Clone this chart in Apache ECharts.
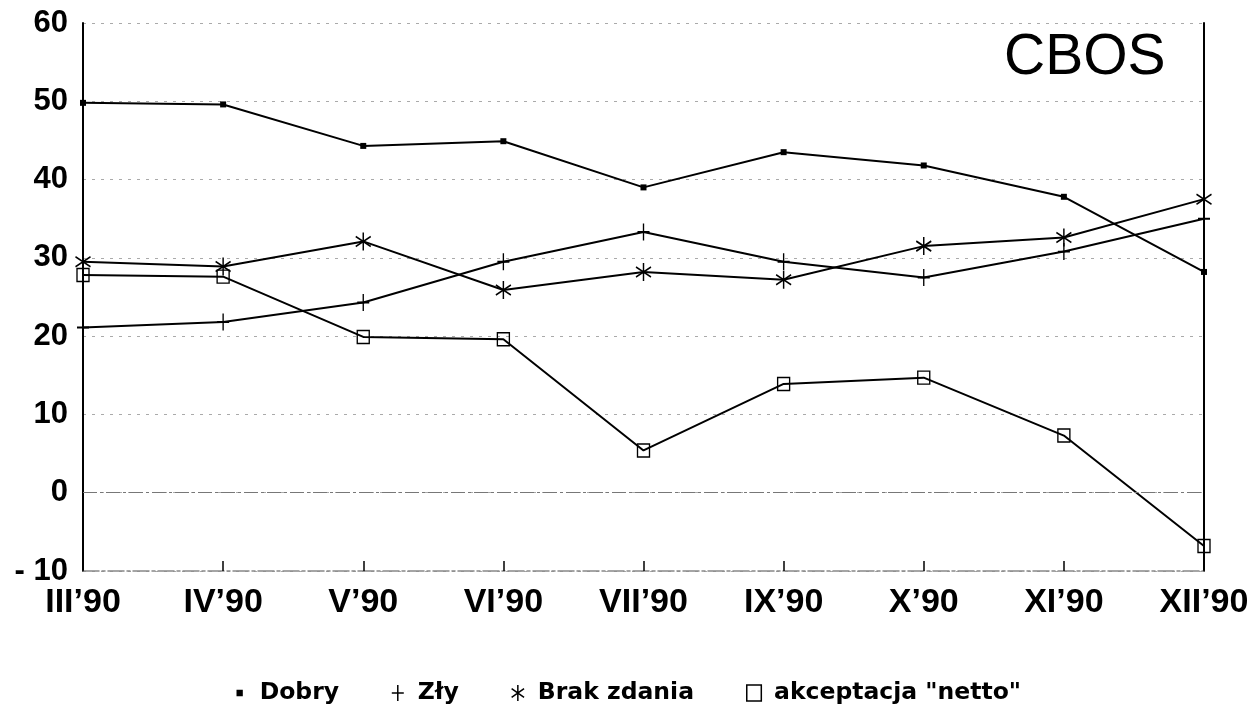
<!DOCTYPE html>
<html>
<head>
<meta charset="utf-8">
<style>
html,body{margin:0;padding:0;background:#fff;}
#chart{width:1252px;height:708px;}
</style>
<script src="https://cdn.jsdelivr.net/npm/echarts@6/dist/echarts.min.js"></script>
</head>
<body>
<div id="chart"></div>
<script>
const categories = ["III’90","IV’90","V’90","VI’90","VII’90","IX’90","X’90","XI’90","XII’90"];
const dobry = [49.8, 49.6, 44.3, 44.9, 39.0, 43.5, 41.8, 37.8, 28.2];
const zly   = [21.1, 21.8, 24.3, 29.5, 33.3, 29.5, 27.5, 30.8, 35.0];
const brak  = [29.5, 28.9, 32.1, 25.9, 28.2, 27.2, 31.5, 32.6, 37.5];
const netto = [27.8, 27.6, 19.9, 19.6, 5.4, 13.9, 14.7, 7.3, -6.8];
const seriesNames = ["Dobry", "Zły", "Brak zdania", "akceptacja \"netto\""];
const yTicks = { min: -10, max: 60, step: 10 };

const SYM_DOT = 'path://M0,0L10,0L10,10L0,10Z';
const SYM_DOT_LEGEND = 'path://M0,0M20,20M7,7L13,7L13,13L7,13Z';
const SYM_PLUS = 'path://M0,8L12,8M6,0L6,16';
const SYM_STAR = 'path://M7,0L7,18M0,4L14,14M0,14L14,4';
const SYM_SQ = 'path://M0,0L12,0L12,13L0,13Z';

const chart = echarts.init(document.getElementById('chart'));
const lineStyle = { color: '#000', width: 2 };
const axisFont = 'Liberation Sans, Arial, sans-serif';

chart.setOption({
  animation: false,
  backgroundColor: '#fff',
  grid: { left: 83, right: 48, top: 23, bottom: 137 },
  graphic: [{
    type: 'text', left: 1004, top: 30,
    style: { text: 'CBOS', font: '57px "Liberation Sans", Arial, sans-serif', fill: '#000' }
  }],
  legend: {
    top: 676, left: 'center',
    itemGap: 52, itemWidth: 16, itemHeight: 16,
    textStyle: { color: '#000', fontSize: 23.5, fontWeight: 'bold', fontFamily: 'DejaVu Sans', padding: [0, 0, 0, 7] },
    itemStyle: { borderWidth: 1.5, borderColor: '#000' },
    data: [
      { name: seriesNames[0], icon: SYM_DOT_LEGEND },
      { name: seriesNames[1], icon: SYM_PLUS },
      { name: seriesNames[2], icon: SYM_STAR },
      { name: seriesNames[3], icon: 'path://M0,0L10,0L10,11L0,11Z', itemWidth: 10, itemHeight: 11 }
    ]
  },
  xAxis: {
    type: 'category', data: categories, boundaryGap: false,
    axisLine: { onZero: false, lineStyle: { color: '#888', width: 1.5, type: [16, 3, 3, 3] } },
    axisTick: { inside: true, length: 10, interval: 0, lineStyle: { color: '#000', width: 1.5 } },
    axisLabel: { color: '#000', fontSize: 34, fontWeight: 'bold', fontFamily: axisFont, margin: 15 },
    splitLine: { show: false }
  },
  yAxis: [{
    type: 'value', min: yTicks.min, max: yTicks.max, interval: yTicks.step,
    axisLine: { show: true, lineStyle: { color: '#000', width: 2 } },
    axisTick: { show: false },
    axisLabel: { color: '#000', fontSize: 31, fontWeight: 'bold', fontFamily: axisFont, margin: 15,
      formatter: v => (v < 0 ? '- ' + Math.abs(v) : String(v)) },
    splitLine: { show: true, lineStyle: { color: '#aaa', width: 1, type: [3, 6] } }
  }, {
    type: 'value', min: yTicks.min, max: yTicks.max, interval: yTicks.step, position: 'right',
    axisLine: { show: true, lineStyle: { color: '#000', width: 2 } },
    axisTick: { show: false }, axisLabel: { show: false }, splitLine: { show: false }
  }],
  series: [
    { name: seriesNames[0], type: 'line', data: dobry, symbol: SYM_DOT, symbolSize: 6,
      lineStyle: lineStyle, itemStyle: { color: '#000', borderColor: '#000', borderWidth: 0 },
      markLine: { silent: true, symbol: 'none', label: { show: false },
        lineStyle: { color: '#777', width: 1.2, type: [14, 3, 3, 3] }, data: [{ yAxis: 0 }] } },
    { name: seriesNames[1], type: 'line', data: zly, symbol: SYM_PLUS, symbolSize: [12, 17],
      lineStyle: lineStyle, itemStyle: { color: '#000', borderColor: '#000', borderWidth: 1.6 } },
    { name: seriesNames[2], type: 'line', data: brak, symbol: SYM_STAR, symbolSize: [15, 18],
      lineStyle: lineStyle, itemStyle: { color: '#000', borderColor: '#000', borderWidth: 1.6 } },
    { name: seriesNames[3], type: 'line', data: netto, symbol: SYM_SQ, symbolSize: [12, 13],
      lineStyle: lineStyle, itemStyle: { color: 'transparent', borderColor: '#000', borderWidth: 1.4 } }
  ]
});
</script>
</body>
</html>
